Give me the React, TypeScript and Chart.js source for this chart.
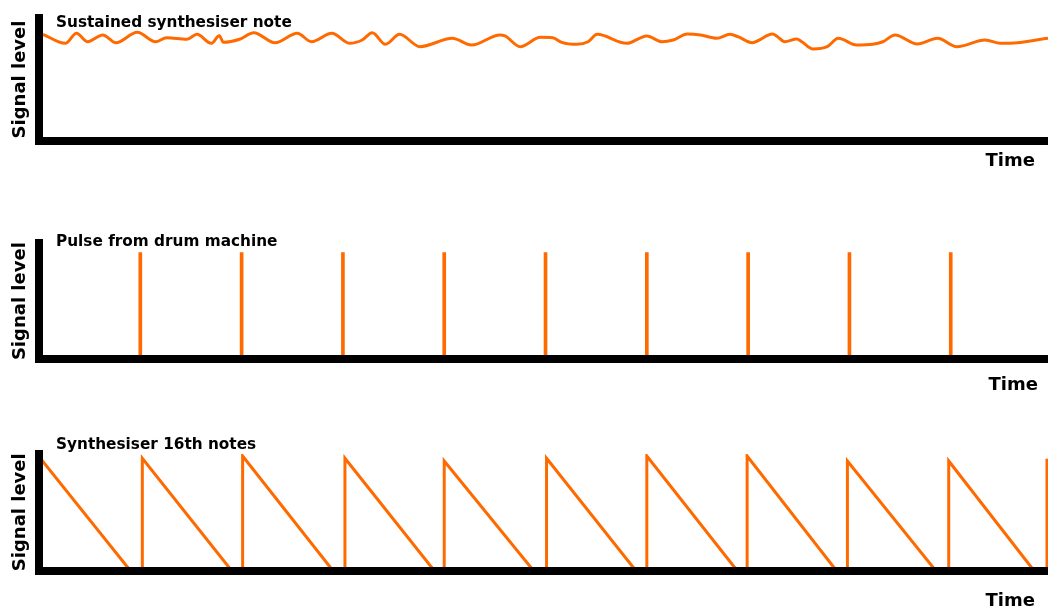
import React, { useEffect, useRef } from 'react';
import { Chart, registerables } from 'chart.js';

Chart.register(...registerables);

// ---- Text ----
const panelTitles = ['Sustained synthesiser note', 'Pulse from drum machine', 'Synthesiser 16th notes'];
const yAxisLabel = 'Signal level';
const xAxisLabel = 'Time';

// ---- Shared time axis (in beats) ----
const timeMin = 0;
const timeMax = 9.96;
const levelMin = 0;
const levelMax = 100;

// ---- Panel 1: sustained synthesiser note (time in beats, level 0-100) ----
const sustainedTime = [
  0.04, 0.26, 0.37, 0.48, 0.63, 0.76, 0.97, 1.15, 1.26, 1.46, 1.56, 1.70, 1.78, 1.82, 1.98,
  2.12, 2.33, 2.55, 2.69, 2.89, 3.07, 3.19, 3.29, 3.42, 3.56, 3.76, 4.08, 4.27, 4.55, 4.60,
  4.75, 4.95, 5.07, 5.16, 5.31, 5.42, 5.51, 5.80, 6.00, 6.15, 6.26, 6.40, 6.53, 6.69, 6.82,
  6.90, 7.04, 7.09, 7.24, 7.29, 7.36, 7.48, 7.53, 7.64, 7.78, 7.89, 8.07, 8.23, 8.33, 8.45,
  8.67, 8.87, 9.06, 9.34, 9.49, 9.58, 9.96,
];
const sustainedLevel = [
  86.7, 79.4, 87.6, 80.7, 86.2, 79.9, 88.4, 80.7, 84.0, 82.7, 86.7, 79.4, 85.6, 80.2, 82.7,
  88.0, 79.9, 87.6, 80.7, 87.6, 79.4, 82.1, 88.0, 78.6, 86.7, 76.7, 83.5, 78.0, 86.2, 85.4,
  76.7, 84.3, 84.0, 80.2, 78.6, 80.7, 86.7, 79.4, 85.4, 80.7, 82.1, 87.0, 86.2, 83.5, 86.7,
  84.8, 79.9, 81.3, 87.0, 84.8, 80.7, 82.9, 80.7, 74.8, 76.7, 83.5, 78.0, 78.6, 80.7, 86.2,
  78.9, 83.5, 76.7, 82.1, 79.4, 79.4, 83.5,
];

// ---- Panel 2: drum machine pulses ----
const pulseTimes = [1, 2, 3, 4, 5, 6, 7, 8, 9];
const pulseLevels = [92, 92, 92, 92, 92, 92, 92, 92, 92];

// ---- Panel 3: synthesiser 16th notes (sawtooth envelopes) ----
const noteOnTimes = [0, 1.02, 2.01, 3.02, 4.0, 5.01, 6.0, 6.99, 7.98, 8.98, 9.95];
const notePeakLevels = [97.7, 96.3, 98.3, 96.4, 94.0, 96.4, 98.3, 98.3, 94.0, 94.0, 96.0];
const noteOffTimes: (number | null)[] = [0.9, 1.9, 2.9, 3.9, 4.88, 5.89, 6.89, 7.87, 8.85, 9.82, null];

const ORANGE = '#ff6a00';
const FONT = "'DejaVu Sans', Verdana, sans-serif";

function buildSawPoints() {
  const pts: { x: number; y: number }[] = [];
  noteOnTimes.forEach((t, i) => {
    pts.push({ x: t, y: levelMin });
    pts.push({ x: t, y: notePeakLevels[i] });
    const off = noteOffTimes[i];
    if (off !== null) pts.push({ x: off, y: levelMin });
  });
  return pts;
}

type TextLayout = {
  title: string;
  titleX: number;
  titleBaseline: number;
  timeRight: number;
  timeBaseline: number;
};

function textPlugin(t: TextLayout) {
  return {
    id: 'panelText',
    afterDraw(chart: any) {
      const ctx = chart.ctx as CanvasRenderingContext2D;
      ctx.save();
      ctx.fillStyle = '#000';
      ctx.textBaseline = 'alphabetic';
      ctx.textAlign = 'left';
      ctx.font = `bold 15.3px ${FONT}`;
      ctx.fillText(t.title, t.titleX, t.titleBaseline);
      ctx.textAlign = 'right';
      ctx.font = `bold 18px ${FONT}`;
      ctx.fillText(xAxisLabel, t.timeRight, t.timeBaseline);
      ctx.restore();
    },
  };
}

function scalesConfig() {
  return {
    x: {
      type: 'linear' as const,
      min: timeMin,
      max: timeMax,
      offset: false,
      display: true,
      grid: { display: false, drawTicks: false },
      ticks: { display: false },
      border: { display: true, color: '#000', width: 8, z: 1 },
    },
    y: {
      type: 'linear' as const,
      min: levelMin,
      max: levelMax,
      display: true,
      grid: { display: false, drawTicks: false },
      ticks: { display: false },
      border: { display: true, color: '#000', width: 8, z: 1 },
      title: {
        display: true,
        text: yAxisLabel,
        color: '#000',
        font: { family: FONT, size: 18, weight: 'bold' as const, lineHeight: 1.2 },
        padding: { top: 4, bottom: 7.4 },
      },
    },
  };
}

function baseOptions(padTop: number, padBottom: number) {
  return {
    responsive: false,
    animation: false as const,
    events: [],
    layout: { padding: { left: 6, right: 0, top: padTop, bottom: padBottom } },
    plugins: { legend: { display: false }, tooltip: { enabled: false }, title: { display: false } },
    scales: scalesConfig(),
  };
}

function Panel({ top, height, makeConfig }: { top: number; height: number; makeConfig: () => any }) {
  const ref = useRef<HTMLCanvasElement>(null);
  useEffect(() => {
    if (!ref.current) return;
    const chart = new Chart(ref.current, makeConfig());
    return () => chart.destroy();
  }, []);
  return (
    <div style={{ position: 'absolute', left: 0, top, width: 1048, height }}>
      <canvas ref={ref} width={1048} height={height} style={{ display: 'block' }} />
    </div>
  );
}

const sustainedConfig = () => ({
  type: 'line',
  data: {
    datasets: [
      {
        data: sustainedTime.map((t, i) => ({ x: t, y: sustainedLevel[i] })),
        borderColor: ORANGE,
        borderWidth: 3,
        pointRadius: 0,
        cubicInterpolationMode: 'monotone',
        fill: false,
      },
    ],
  },
  options: baseOptions(18, 59),
  plugins: [textPlugin({ title: panelTitles[0], titleX: 56, titleBaseline: 27, timeRight: 1035, timeBaseline: 165.7 })],
});

const pulseConfig = () => ({
  type: 'bar',
  data: {
    datasets: [
      {
        data: pulseTimes.map((t, i) => ({ x: t, y: pulseLevels[i] })),
        backgroundColor: ORANGE,
        borderWidth: 0,
        barThickness: 3,
      },
    ],
  },
  options: baseOptions(43.3, 41),
  plugins: [textPlugin({ title: panelTitles[1], titleX: 56, titleBaseline: 45.5, timeRight: 1038, timeBaseline: 189.5 })],
});

const sawConfig = () => ({
  type: 'line',
  data: {
    datasets: [
      {
        data: buildSawPoints(),
        borderColor: ORANGE,
        borderWidth: 3,
        pointRadius: 0,
        tension: 0,
        fill: false,
      },
    ],
  },
  options: baseOptions(54, 37.5),
  plugins: [textPlugin({ title: panelTitles[2], titleX: 56, titleBaseline: 49, timeRight: 1035, timeBaseline: 205.5 })],
});

export default function App() {
  return (
    <div style={{ position: 'absolute', left: 0, top: 0, width: 1048, height: 608, overflow: 'hidden', background: '#fff' }}>
      <Panel top={0} height={200} makeConfig={sustainedConfig} />
      <Panel top={200} height={200} makeConfig={pulseConfig} />
      <Panel top={400} height={208} makeConfig={sawConfig} />
    </div>
  );
}
